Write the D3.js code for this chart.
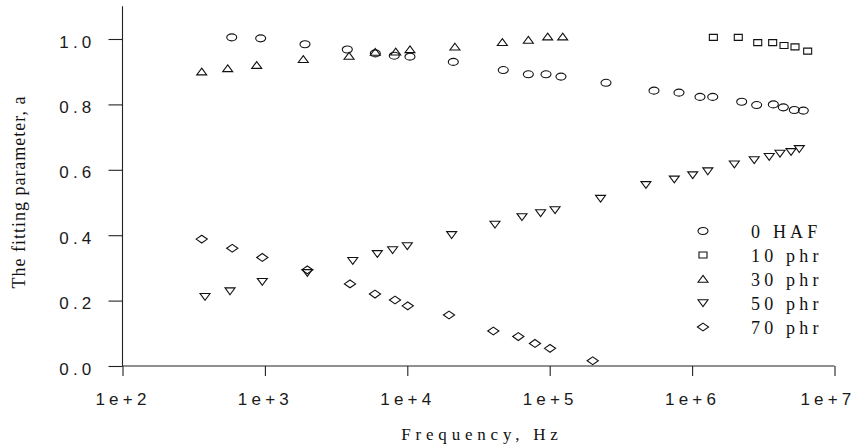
<!DOCTYPE html>
<html>

<head>
    <meta charset='utf-8'>
</head>
<style>
    body {
        margin: 0;
        background: #fff;
    }
    .tick-label {
        font-family: 'Liberation Sans', Arial, sans-serif;
        font-size: 17px;
        letter-spacing: 4.2px;
        fill: #1a1a1a;
    }
    .title, .legend-text {
        font-family: 'Liberation Serif', 'Times New Roman', serif;
        fill: #111;
    }
</style>

<body>
    <svg width="857" height="447"></svg>
    <script src="https://d3js.org/d3.v7.min.js"></script>
    <script>
        // Values (frequency in Hz, fitting parameter a)
        var seriesNames = ["0 HAF", "10 phr", "30 phr", "50 phr", "70 phr"];
        var symbols = ["circle", "square", "triUp", "triDown", "diamond"];

        var freq0 = [585, 934, 1912, 3790, 5960, 8100, 10440, 21040, 47200, 70800, 94200, 120000,
            248500, 540000, 809000, 1136000, 1396000, 2230000, 2840000, 3720000, 4370000, 5220000, 6040000];
        var a0 = [1.005, 1.002, 0.984, 0.968, 0.956, 0.949, 0.946, 0.930, 0.905, 0.892, 0.892, 0.885,
            0.866, 0.842, 0.836, 0.823, 0.823, 0.808, 0.798, 0.800, 0.791, 0.783, 0.781];

        var freq10 = [1410000, 2110000, 2890000, 3680000, 4420000, 5280000, 6480000];
        var a10 = [1.005, 1.005, 0.989, 0.989, 0.980, 0.976, 0.963];

        var freq30 = [360, 548, 876, 1860, 3900, 5960, 8290, 10440, 21600, 46500, 70800, 96800, 123400];
        var a30 = [0.900, 0.910, 0.920, 0.938, 0.948, 0.960, 0.961, 0.968, 0.976, 0.990, 0.997, 1.007, 1.007];

        var freq50 = [380, 569, 959, 1985, 4140, 6160, 7890, 10000, 20500, 41300, 63900, 86300, 109000,
            227500, 474000, 750000, 1010000, 1290000, 1980000, 2730000, 3480000, 4140000, 4950000, 5660000];
        var a50 = [0.212, 0.229, 0.258, 0.285, 0.322, 0.343, 0.355, 0.367, 0.401, 0.433, 0.456, 0.468, 0.477,
            0.512, 0.554, 0.571, 0.584, 0.596, 0.617, 0.630, 0.640, 0.650, 0.655, 0.664];

        var freq70 = [360, 590, 959, 1985, 3960, 5930, 8200, 10070, 19630, 40200, 60200, 78800, 100500, 200500];
        var a70 = [0.388, 0.360, 0.332, 0.294, 0.251, 0.220, 0.202, 0.184, 0.156, 0.107, 0.090, 0.069, 0.054, 0.016];

        var xTicks = [1e2, 1e3, 1e4, 1e5, 1e6, 1e7];
        var yTicks = [0, 0.2, 0.4, 0.6, 0.8, 1.0];

        var allFreq = [freq0, freq10, freq30, freq50, freq70];
        var allA = [a0, a10, a30, a50, a70];

        var svg = d3.select('svg');
        var width = +svg.attr('width');

        var x = d3.scaleLog().domain([1e2, 1e7]).range([122.5, 834.5]);
        var y = d3.scaleLinear().domain([0, 1.1]).range([366, 6.3]);

        // marker shapes are a bit wider than tall, like the original export
        function shapePath(kind) {
            switch (kind) {
                case "circle":
                    return "M-5,0A5,3.5 0 1,0 5,0A5,3.5 0 1,0 -5,0Z";
                case "square":
                    return "M-4,-3H4V3H-4Z";
                case "triUp":
                    return "M0,-3.6L5,3.2H-5Z";
                case "triDown":
                    return "M0,3.6L5,-3.2H-5Z";
                case "diamond":
                    return "M-5.6,0L0,-3.9L5.6,0L0,3.9Z";
            }
        }

        // axes
        var xAxis = svg.append('g')
            .attr('transform', 'translate(0,366)')
            .call(d3.axisBottom(x).tickValues(xTicks).tickSize(10).tickFormat(function(d) {
                return "1e+" + Math.round(Math.log10(d));
            }));
        var yAxis = svg.append('g')
            .attr('transform', 'translate(122.5,0)')
            .call(d3.axisLeft(y).tickValues(yTicks).tickSize(14).tickFormat(d3.format('.1f')));

        [xAxis, yAxis].forEach(function(g) {
            g.select('.domain').attr('stroke', '#222').attr('stroke-width', 1.1);
            g.selectAll('.tick line').attr('stroke', '#222').attr('stroke-width', 1.1);
            g.selectAll('.tick text').attr('class', 'tick-label').attr('fill', null)
                .attr('font-size', null).attr('font-family', null);
        });
        xAxis.selectAll('.tick text').attr('y', 0).attr('dy', '39px');
        // last label is pulled in so it stays inside the picture
        xAxis.selectAll('.tick text').filter(function(d) {
                return d === xTicks[xTicks.length - 1];
            })
            .attr('text-anchor', 'end')
            .attr('x', width - 2 - x(xTicks[xTicks.length - 1]));
        yAxis.selectAll('.tick text').attr('x', -27).attr('dy', '8px');
        // domain lines without the outer ticks
        xAxis.select('.domain').attr('d', 'M' + x.range()[0] + ',0H' + x.range()[1]);
        yAxis.select('.domain').attr('d', 'M0,' + y.range()[0] + 'V' + y.range()[1]);

        // axis titles
        svg.append('text')
            .attr('class', 'title')
            .attr('x', 482)
            .attr('y', 440)
            .attr('text-anchor', 'middle')
            .style('font-size', '17px')
            .style('letter-spacing', '4.8px')
            .text('Frequency, Hz');
        svg.append('text')
            .attr('class', 'title')
            .attr('transform', 'translate(25,192) rotate(-90)')
            .attr('text-anchor', 'middle')
            .style('font-size', '18px')
            .style('letter-spacing', '1px')
            .text('The fitting parameter, a');

        // data points
        var plot = svg.append('g');
        allFreq.forEach(function(fs, i) {
            var pts = fs.map(function(f, j) {
                return { f: f, a: allA[i][j] };
            });
            plot.append('g')
                .selectAll('path')
                .data(pts)
                .enter().append('path')
                .attr('d', shapePath(symbols[i]))
                .attr('transform', function(d) {
                    return 'translate(' + x(d.f) + ',' + y(d.a) + ')';
                })
                .attr('fill', 'none')
                .attr('stroke', '#111')
                .attr('stroke-width', 1.1);
        });

        // legend
        var legend = svg.append('g').attr('transform', 'translate(703,231)');
        var row = legend.selectAll('g')
            .data(seriesNames)
            .enter().append('g')
            .attr('transform', function(d, i) {
                return 'translate(0,' + (i * 24) + ')';
            });
        row.append('path')
            .attr('d', function(d, i) {
                return shapePath(symbols[i]);
            })
            .attr('fill', 'none')
            .attr('stroke', '#111')
            .attr('stroke-width', 1.1);
        row.append('text')
            .attr('class', 'legend-text')
            .attr('x', 48)
            .attr('y', 6.5)
            .style('font-size', '18px')
            .style('letter-spacing', '4.2px')
            .text(function(d) {
                return d;
            });
    </script>
</body>

</html>
